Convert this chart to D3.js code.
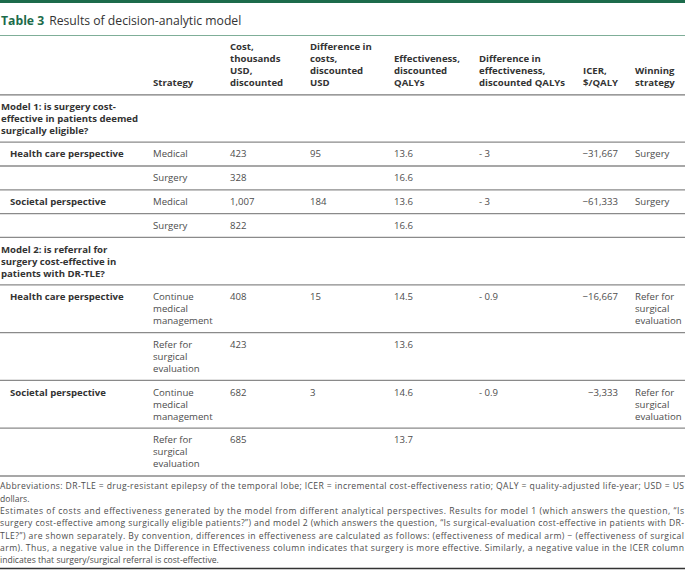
<!DOCTYPE html>
<html>
<head>
<meta charset="utf-8">
<script src="https://cdn.jsdelivr.net/npm/d3@7"></script>
<style>
  body { margin: 0; background: #fff; }
  text { font-family: "Open Sans", "Noto Sans", sans-serif; }
</style>
</head>
<body>
<script>
var w = 685;
var h = 571;

// table content
var titleLabel = "Table 3";
var titleText = "Results of decision-analytic model";

var columnKeys = ["group", "strategy", "cost", "diffCost", "eff", "diffEff", "icer", "winner"];
var headerLines = [
  [],
  ["Strategy"],
  ["Cost,", "thousands", "USD,", "discounted"],
  ["Difference in", "costs,", "discounted", "USD"],
  ["Effectiveness,", "discounted", "QALYs"],
  ["Difference in", "effectiveness,", "discounted QALYs"],
  ["ICER,", "$/QALY"],
  ["Winning", "strategy"]
];

var modelTitles = [
  ["Model 1: is surgery cost-", "effective in patients deemed", "surgically eligible?"],
  ["Model 2: is referral for", "surgery cost-effective in", "patients with DR-TLE?"]
];

var perspectives = ["Health care perspective", "", "Societal perspective", ""];
var strategies1 = [["Medical"], ["Surgery"], ["Medical"], ["Surgery"]];
var strategies2 = [["Continue", "medical", "management"], ["Refer for", "surgical", "evaluation"],
                   ["Continue", "medical", "management"], ["Refer for", "surgical", "evaluation"]];
var costs1 = ["423", "328", "1,007", "822"];
var costs2 = ["408", "423", "682", "685"];
var diffCosts1 = ["95", "", "184", ""];
var diffCosts2 = ["15", "", "3", ""];
var effs1 = ["13.6", "16.6", "13.6", "16.6"];
var effs2 = ["14.5", "13.6", "14.6", "13.7"];
var diffEffs1 = ["- 3", "", "- 3", ""];
var diffEffs2 = ["- 0.9", "", "- 0.9", ""];
var icers1 = ["\u221231,667", "", "\u221261,333", ""];
var icers2 = ["\u221216,667", "", "\u22123,333", ""];
var winners1 = [["Surgery"], [], ["Surgery"], []];
var winners2 = [["Refer for", "surgical", "evaluation"], [], ["Refer for", "surgical", "evaluation"], []];

var footLines = [
  "Abbreviations: DR-TLE = drug-resistant epilepsy of the temporal lobe; ICER = incremental cost-effectiveness ratio; QALY = quality-adjusted life-year; USD = US",
  "dollars.",
  "Estimates of costs and effectiveness generated by the model from different analytical perspectives. Results for model 1 (which answers the question, \u201cIs",
  "surgery cost-effective among surgically eligible patients?\u201d) and model 2 (which answers the question, \u201cIs surgical-evaluation cost-effective in patients with DR-",
  "TLE?\u201d) are shown separately. By convention, differences in effectiveness are calculated as follows: (effectiveness of medical arm) \u2212 (effectiveness of surgical",
  "arm). Thus, a negative value in the Difference in Effectiveness column indicates that surgery is more effective. Similarly, a negative value in the ICER column",
  "indicates that surgery/surgical referral is cost-effective."
];
var footJustified = [true, false, true, true, true, true, false];

var svg = d3.select("body").append("svg")
            .attr("width", w)
            .attr("height", h);

var x = d3.scaleOrdinal()
          .domain(columnKeys)
          .range([1, 153, 230, 310, 394, 479, 583, 635]);

var green = "#1c6b4b";
var dark = "#333";
var body = "#4d4d4d";
var lineH = 12;
var pad = 5.9;
var fs = 9.6;

// top bar + title
svg.append("rect")
   .attr("x", 0).attr("y", 0)
   .attr("width", w).attr("height", 3)
   .attr("fill", green);

var title = svg.append("text")
               .attr("x", 1)
               .attr("y", 25)
               .attr("font-size", 12.2);
title.append("tspan").attr("font-weight", "bold").attr("fill", green).text(titleLabel);
title.append("tspan").attr("fill", dark).attr("dx", 5).text(titleText);

svg.append("line")
   .attr("x1", 0).attr("x2", w)
   .attr("y1", 35.5).attr("y2", 35.5)
   .attr("stroke", "#7fae98")
   .attr("stroke-width", 1);

function rule(y, color, width) {
  svg.append("line")
     .attr("x1", 0).attr("x2", w)
     .attr("y1", y).attr("y2", y)
     .attr("stroke", color)
     .attr("stroke-width", width);
}

function cell(lines, xPos, top, opts) {
  opts = opts || {};
  var t = svg.append("text")
             .attr("font-size", fs)
             .attr("fill", opts.color || body)
             .attr("font-weight", opts.bold ? "bold" : "normal")
             .attr("text-anchor", opts.anchor || "start");
  t.selectAll("tspan")
   .data(lines)
   .join("tspan")
   .attr("x", xPos)
   .attr("y", function(d, i) { return top + pad + 9.3 + i * lineH; })
   .text(function(d) { return d; });
}

// header (bottom aligned)
var headTop = 35.5;
var headRows = d3.max(headerLines, function(d) { return d.length; });
var headBottom = headTop + headRows * lineH + 2 * pad - 0.5;
headerLines.forEach(function(lines, i) {
  var offset = (headRows - lines.length) * lineH;
  cell(lines, x(columnKeys[i]), headTop + offset - 0.5, { bold: true, color: dark });
});
rule(headBottom, "#7a7a7a", 1.3);

var y = headBottom;
var blocks = [
  { title: modelTitles[0], strat: strategies1, cost: costs1, dc: diffCosts1, eff: effs1, de: diffEffs1, icer: icers1, win: winners1 },
  { title: modelTitles[1], strat: strategies2, cost: costs2, dc: diffCosts2, eff: effs2, de: diffEffs2, icer: icers2, win: winners2 }
];

blocks.forEach(function(b) {
  cell(b.title, x("group"), y, { bold: true, color: dark });
  y += b.title.length * lineH + 2 * pad - 0.4;
  rule(y, "#8a8a8a", 1.3);
  perspectives.forEach(function(p, i) {
    var n = Math.max(b.strat[i].length, b.win[i].length, 1);
    cell([p], x("group") + 9, y, { bold: true, color: dark });
    cell(b.strat[i], x("strategy"), y);
    cell([b.cost[i]], x("cost"), y);
    cell([b.dc[i]], x("diffCost"), y);
    cell([b.eff[i]], x("eff"), y);
    cell([b.de[i]], x("diffEff"), y);
    cell([b.icer[i]], 618, y, { anchor: "end" });
    cell(b.win[i], x("winner"), y);
    y += n * lineH + 2 * pad;
    rule(y, "#8a8a8a", 1.3);
  });
});

// footnotes
var footTop = y + 13.3;
footLines.forEach(function(line, i) {
  var t = svg.append("text")
             .attr("x", 0)
             .attr("y", footTop + i * 12.3)
             .attr("font-size", 8.6)
             .attr("fill", body)
             .text(line);
  if (footJustified[i]) {
    t.attr("textLength", 684).attr("lengthAdjust", "spacing");
  }
});

rule(568.5, "#333", 1.5);
</script>
</body>
</html>
